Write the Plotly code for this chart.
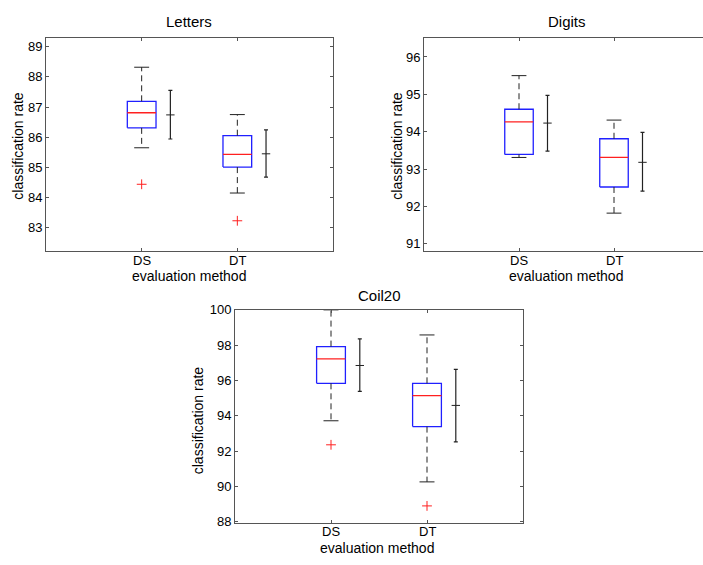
import plotly.graph_objects as go

W, H = 703, 565

groups = ["DS", "DT"]
positions = [1, 2]

# Letters
letters_lower = [85.65, 84.15]
letters_q1 = [86.31, 85.01]
letters_median = [86.81, 85.43]
letters_q3 = [87.19, 86.05]
letters_upper = [88.32, 86.75]
letters_outliers = [[84.44], [83.23]]
letters_mean = [86.74, 85.45]
letters_err_low = [85.94, 84.68]
letters_err_high = [87.55, 86.24]

# Digits
digits_lower = [93.31, 91.82]
digits_q1 = [93.39, 92.52]
digits_median = [94.26, 93.31]
digits_q3 = [94.60, 93.81]
digits_upper = [95.50, 94.31]
digits_outliers = [[], []]
digits_mean = [94.23, 93.18]
digits_err_low = [93.48, 92.41]
digits_err_high = [94.97, 93.98]

# Coil20
coil_lower = [93.72, 90.26]
coil_q1 = [95.84, 93.39]
coil_median = [97.22, 95.14]
coil_q3 = [97.92, 95.84]
coil_upper = [100.0, 98.58]
coil_outliers = [[92.36], [88.90]]
coil_mean = [96.85, 94.59]
coil_err_low = [95.38, 92.53]
coil_err_high = [98.36, 96.63]

letters_ticks = [83, 84, 85, 86, 87, 88, 89]
digits_ticks = [91, 92, 93, 94, 95, 96]
coil_ticks = [88, 90, 92, 94, 96, 98, 100]

BOX_HW = 0.15
CAP_HW = 0.078
ERR_OFF = 0.3
BLUE = "#2020ff"
RED = "#ff2020"
BLACK = "#222222"
AXC = "#555555"
FONT = "Liberation Sans, Arial, sans-serif"

fig = go.Figure()


def add_panel(xr, yr, lower, q1, med, q3, upper, outl, mean, elo, ehi):
    for i, p in enumerate(positions):
        fig.add_trace(go.Scatter(
            x=[p - BOX_HW, p + BOX_HW, p + BOX_HW, p - BOX_HW, p - BOX_HW],
            y=[q1[i], q1[i], q3[i], q3[i], q1[i]],
            mode="lines", line=dict(color=BLUE, width=1.3),
            xaxis=xr, yaxis=yr, showlegend=False, hoverinfo="skip"))
        fig.add_trace(go.Scatter(
            x=[p - BOX_HW, p + BOX_HW], y=[med[i], med[i]],
            mode="lines", line=dict(color=RED, width=1.3),
            xaxis=xr, yaxis=yr, showlegend=False, hoverinfo="skip"))
        fig.add_trace(go.Scatter(
            x=[p, p, None, p, p], y=[q3[i], upper[i], None, q1[i], lower[i]],
            mode="lines", line=dict(color=BLACK, width=1, dash="6px,4px"),
            xaxis=xr, yaxis=yr, showlegend=False, hoverinfo="skip"))
        fig.add_trace(go.Scatter(
            x=[p - CAP_HW, p + CAP_HW, None, p - CAP_HW, p + CAP_HW],
            y=[upper[i], upper[i], None, lower[i], lower[i]],
            mode="lines", line=dict(color=BLACK, width=1),
            xaxis=xr, yaxis=yr, showlegend=False, hoverinfo="skip"))
        if outl[i]:
            fig.add_trace(go.Scatter(
                x=[p] * len(outl[i]), y=outl[i], mode="markers",
                marker=dict(symbol="cross-thin", size=7,
                            line=dict(color=RED, width=1)),
                xaxis=xr, yaxis=yr, showlegend=False, hoverinfo="skip"))
        fig.add_trace(go.Scatter(
            x=[p + ERR_OFF], y=[mean[i]], mode="markers",
            marker=dict(symbol="line-ew", size=6,
                        line=dict(color=BLACK, width=1)),
            error_y=dict(type="data", symmetric=False,
                         array=[ehi[i] - mean[i]],
                         arrayminus=[mean[i] - elo[i]],
                         color=BLACK, thickness=1.2, width=2),
            xaxis=xr, yaxis=yr, showlegend=False, hoverinfo="skip"))


add_panel("x", "y", letters_lower, letters_q1, letters_median, letters_q3,
          letters_upper, letters_outliers, letters_mean, letters_err_low,
          letters_err_high)
add_panel("x2", "y2", digits_lower, digits_q1, digits_median, digits_q3,
          digits_upper, digits_outliers, digits_mean, digits_err_low,
          digits_err_high)
add_panel("x3", "y3", coil_lower, coil_q1, coil_median, coil_q3,
          coil_upper, coil_outliers, coil_mean, coil_err_low, coil_err_high)


def px_x(v):
    return v / W


def px_y(v):
    return 1 - v / H


def xaxis(dom, anchor, rng):
    return dict(domain=dom, anchor=anchor, range=rng,
                tickvals=positions, showticklabels=False,
                showline=True, linecolor=AXC, linewidth=1, mirror="ticks",
                ticks="inside", ticklen=3, tickcolor=AXC,
                showgrid=False, zeroline=False)


def yaxis(dom, anchor, rng, tv, mirror):
    return dict(domain=dom, anchor=anchor, range=rng, tickvals=tv,
                showline=True, linecolor=AXC, linewidth=1, mirror=mirror,
                ticks="inside", ticklen=3, tickcolor=AXC,
                showgrid=False, zeroline=False,
                tickfont=dict(family=FONT, size=13, color="black"))


fig.update_layout(
    width=W, height=H,
    margin=dict(l=0, r=0, t=0, b=0),
    paper_bgcolor="white", plot_bgcolor="white",
    xaxis=xaxis([px_x(46), px_x(333)], "y", [0, 3]),
    yaxis=yaxis([px_y(250), px_y(32)], "x", [82.22, 89.28], letters_ticks, "ticks"),
    xaxis2=xaxis([px_x(424), 1.0], "y2", [0, (703 - 424) / 95.0]),
    yaxis2=yaxis([px_y(250), px_y(32)], "x2", [90.8, 96.5], digits_ticks, False),
    xaxis3=xaxis([px_x(235), px_x(523)], "y3", [0, 3]),
    yaxis3=yaxis([px_y(528), px_y(310)], "x3", [87.94, 100.0], coil_ticks, "ticks"),
)

ann = []


def text(x, y, s, size=14, angle=0):
    ann.append(dict(x=px_x(x), y=px_y(y), xref="paper", yref="paper",
                    text=s, showarrow=False, textangle=angle,
                    xanchor="center", yanchor="middle",
                    font=dict(family=FONT, size=size, color="black")))


# category tick labels placed at the data positions of each x axis
for xr, ypx in (("x", 259), ("x2", 259), ("x3", 537)):
    for p, g in zip(positions, groups):
        ann.append(dict(x=p, y=px_y(ypx), xref=xr, yref="paper", text=g,
                        showarrow=False, xanchor="center", yanchor="middle",
                        font=dict(family=FONT, size=13, color="black")))

text(189, 15, "Letters", size=15)
text(567, 15, "Digits", size=15)
text(379, 295, "Coil20", size=15)
text(189, 275, "evaluation method")
text(566, 275, "evaluation method")
text(377, 554, "evaluation method")
text(18, 142, "classification rate", angle=-90)
text(397, 142, "classification rate", angle=-90)
text(198, 423, "classification rate", angle=-90)
fig.update_layout(annotations=ann)

fig.write_html("out.html", config={"displayModeBar": False},
               post_script="document.body.style.margin='0px';")
